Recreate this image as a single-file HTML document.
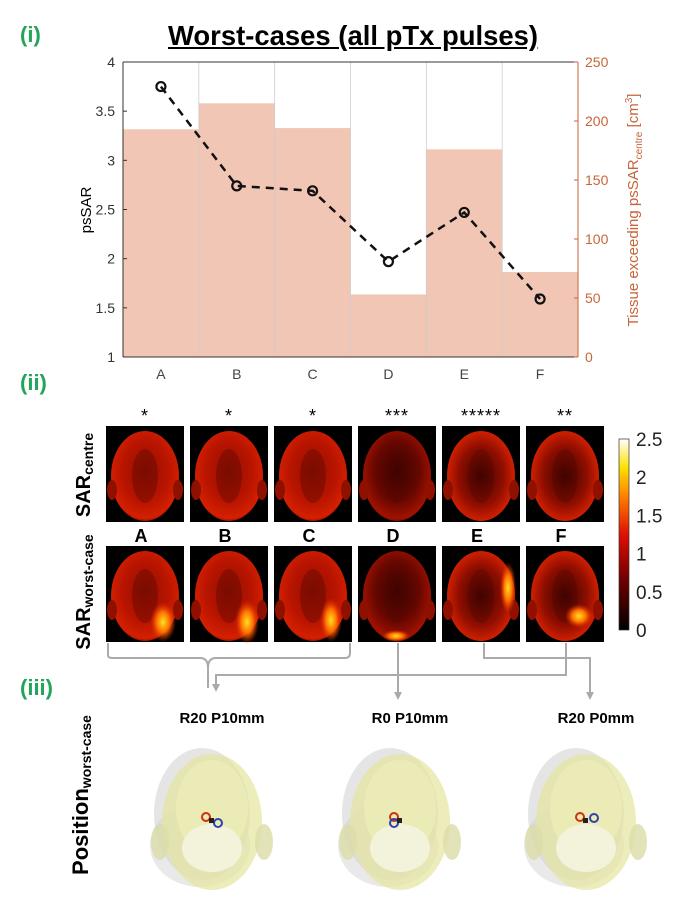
<!DOCTYPE html>
<html><head><meta charset="utf-8"><style>
body{margin:0;background:#fff;font-family:"Liberation Sans",sans-serif;}
#wrap{position:relative;width:681px;height:916px;overflow:hidden;}
.abs{position:absolute;}
.grn{color:#22a45a;font-weight:bold;font-size:22px;}
</style></head><body>
<div id="wrap">
<div class="abs grn" style="left:20px;top:22px">(i)</div>
<div class="abs grn" style="left:20px;top:370px">(ii)</div>
<div class="abs grn" style="left:20px;top:675px">(iii)</div>
<div class="abs" style="left:168px;top:20px;font-size:28px;font-weight:bold;text-decoration:underline;transform:scaleX(0.98);transform-origin:left">Worst-cases (all pTx pulses)</div>
<svg class="abs" style="left:0;top:0" width="681" height="916" id="svg"></svg>
</div>
<script>
const cats=["A","B","C","D","E","F"];
const tissue=[193,215,194,53,176,72];
const pssar=[3.75,2.74,2.69,1.97,2.47,1.59];
const leftTicks=[1,1.5,2,2.5,3,3.5,4];
const rightTicks=[0,50,100,150,200,250];
const stars=["*","*","*","***","*****","**"];
const cbTicks=[0,0.5,1,1.5,2,2.5];
const positions=["R20 P10mm","R0 P10mm","R20 P0mm"];

const NS="http://www.w3.org/2000/svg";
const svg=document.getElementById('svg');
function mk(t,a,p){const e=document.createElementNS(NS,t);for(const k in a)e.setAttribute(k,a[k]);(p||svg).appendChild(e);return e;}
const X0=123,X1=578,Y0=62,Y1=357;
const bw=(X1-X0)/cats.length;
const yL=v=>Y1-(v-1)/3*(Y1-Y0);
const yR=v=>Y1-v/250*(Y1-Y0);
const xC=i=>X0+bw*(i+0.5);
tissue.forEach((v,i)=>{
 const r=mk('rect',{x:X0+bw*i,y:yR(v),width:bw,height:Y1-yR(v),fill:'#f2c6b5'});
 
 
});
for(let i=1;i<cats.length;i++){mk('line',{x1:X0+bw*i,x2:X0+bw*i,y1:Y0,y2:Y1,stroke:'#ccc','stroke-width':0.8});}
mk('line',{x1:X0,x2:X0,y1:Y0,y2:Y1,stroke:'#333'});
mk('line',{x1:X0,x2:X1,y1:Y1,y2:Y1,stroke:'#333'});
mk('line',{x1:X1,x2:X1,y1:Y0,y2:Y1,stroke:'#c8643a'});
mk('line',{x1:X0,x2:X1,y1:Y0,y2:Y0,stroke:'#333'});
leftTicks.forEach(v=>{mk('line',{x1:X0,x2:X0+4,y1:yL(v),y2:yL(v),stroke:'#333'});
 const t=mk('text',{x:X0-8,y:yL(v)+5,'text-anchor':'end','font-size':14,fill:'#333'});t.textContent=v;
 });
rightTicks.forEach(v=>{mk('line',{x1:X1,x2:X1-4,y1:yR(v),y2:yR(v),stroke:'#c8643a'});
 const t=mk('text',{x:X1+7,y:yR(v)+5,'font-size':14,fill:'#c8643a'});t.textContent=v;
 });
cats.forEach((c,i)=>{const t=mk('text',{x:xC(i),y:Y1+22,'text-anchor':'middle','font-size':14,fill:'#444'});t.textContent=c;
 });
let yl=mk('text',{transform:`translate(91,210) rotate(-90)`,'text-anchor':'middle','font-size':15,fill:'#000'});yl.textContent='psSAR';

let yr=mk('text',{transform:`translate(638,210) rotate(-90)`,'text-anchor':'middle','font-size':15,fill:'#c8643a'});
yr.innerHTML='Tissue exceeding psSAR<tspan font-size="10" dy="4">centre</tspan><tspan dy="-4"> [cm</tspan><tspan font-size="10" dy="-6">3</tspan><tspan dy="6">]</tspan>';

const pl=mk('polyline',{points:pssar.map((v,i)=>xC(i)+','+yL(v)).join(' '),fill:'none',stroke:'#111','stroke-width':2.5,'stroke-dasharray':'8,6'});

pssar.forEach((v,i)=>{const c=mk('circle',{cx:xC(i),cy:yL(v),r:4.5,fill:'none',stroke:'#111','stroke-width':2.2});
 });

const defs=mk('defs',{});
function grad(id,stops,cx,cy,r){const g=mk('radialGradient',{id:id,cx:cx,cy:cy,r:r},defs);stops.forEach(s=>mk('stop',{offset:s[0],'stop-color':s[1]},g));}
grad('gA',[[0,'#901000'],[0.6,'#b81400'],[0.95,'#d42000'],[1,'#a01000']],'50%','45%','55%');
grad('gD',[[0,'#380300'],[0.6,'#680700'],[0.95,'#a01200'],[1,'#800a00']],'50%','45%','55%');
grad('gE',[[0,'#380300'],[0.6,'#900e00'],[0.95,'#d82200'],[1,'#a01000']],'50%','50%','55%');
grad('gW',[[0,'#ffe020'],[0.5,'#ff7000'],[1,'rgba(220,40,0,0)']],'50%','50%','50%');
const hx=[106,190,274,358,442,526],hw=78,hh=96;
const rowY=[426,546];
const fills=['gA','gA','gA','gD','gE','gE'];
rowY.forEach((ry,r)=>{
 hx.forEach((x,i)=>{
  const g=mk('g',{});
  
  
  mk('rect',{x:x,y:ry,width:hw,height:hh,fill:'#000'},g);
  mk('ellipse',{cx:x+hw/2,cy:ry+hh/2+2,rx:34,ry:45,fill:'url(#'+fills[i]+')'},g);
  mk('ellipse',{cx:x+6,cy:ry+64,rx:5,ry:10,fill:'#901000'},g);
  mk('ellipse',{cx:x+hw-6,cy:ry+64,rx:5,ry:10,fill:'#901000'},g);
  mk('ellipse',{cx:x+hw/2,cy:ry+hh/2+2,rx:13,ry:27,fill:'#500500',opacity:0.35},g);
  if(r===1){
   const hot=[[x+57,ry+76,13,20],[x+57,ry+76,12,22],[x+57,ry+74,11,22],[x+38,ry+90,14,6],[x+66,ry+42,8,26],[x+53,ry+70,14,12]][i];
   mk('ellipse',{cx:hot[0],cy:hot[1],rx:hot[2],ry:hot[3],fill:'url(#gW)'},g);
  }
 });
});
stars.forEach((s,i)=>{const t=mk('text',{x:hx[i]+hw/2,y:422,'text-anchor':'middle','font-size':18,fill:'#000','letter-spacing':'1'});t.textContent=s;
 });
cats.forEach((c,i)=>{const t=mk('text',{x:hx[i]+hw/2-4,y:542,'text-anchor':'middle','font-size':18,'font-weight':'bold',fill:'#000'});t.textContent=c;
 });
let rl1=mk('text',{transform:'translate(90,475) rotate(-90)','text-anchor':'middle','font-size':20,'font-weight':'bold'});
rl1.innerHTML='SAR<tspan font-size="14" dy="3">centre</tspan>';
let rl2=mk('text',{transform:'translate(90,592) rotate(-90)','text-anchor':'middle','font-size':20,'font-weight':'bold'});
rl2.innerHTML='SAR<tspan font-size="14" dy="3">worst-case</tspan>';
const cg=mk('linearGradient',{id:'cb',x1:0,y1:1,x2:0,y2:0},defs);
[[0,'#000'],[0.3,'#800000'],[0.5,'#e01000'],[0.7,'#ff8000'],[0.85,'#ffe000'],[1,'#fff']].forEach(s=>mk('stop',{offset:s[0],'stop-color':s[1]},cg));
const cbY0=439,cbY1=630;
const cbr=mk('rect',{x:619,y:cbY0,width:10,height:cbY1-cbY0,fill:'url(#cb)',stroke:'#333','stroke-width':0.7});

cbTicks.forEach(v=>{const y=cbY1-v/2.5*(cbY1-cbY0);const t=mk('text',{x:636,y:y+7,'font-size':19,fill:'#222'});t.textContent=v;
 });
const gs={stroke:'#aaa','stroke-width':2,fill:'none'};
mk('path',Object.assign({d:'M108,643 L108,655 Q108,658 112,658 L200,658 Q208,658 208,668 L208,688 M208,668 Q208,658 216,658 L345,658 Q350,658 350,653 L350,643'},gs));
mk('path',Object.assign({d:'M566,643 L566,675 L216,675 L216,686'},gs));
mk('path',Object.assign({d:'M398,643 L398,695'},gs));
mk('path',Object.assign({d:'M484,643 L484,658 L590,658 L590,695'},gs));
[[216,692],[398,700],[590,700]].forEach(p=>mk('path',{d:`M${p[0]-4},${p[1]-8} L${p[0]+4},${p[1]-8} L${p[0]},${p[1]} Z`,fill:'#aaa'}));
let pl3=mk('text',{transform:'translate(88,795) rotate(-90)','text-anchor':'middle','font-size':22,'font-weight':'bold'});
pl3.innerHTML='Position<tspan font-size="14" dy="3">worst-case</tspan>';
const headX=[222,410,596];
positions.forEach((p,i)=>{
 const t=mk('text',{x:headX[i],y:723,'text-anchor':'middle','font-size':15,'font-weight':'bold'});t.textContent=p;
 
 const g=mk('g',{});
 const cx=headX[i]-10,cy=820;
 mk('ellipse',{cx:cx-10,cy:cy-6,rx:48,ry:66,fill:'#cfcfcf',opacity:0.55},g);
 mk('ellipse',{cx:cx-12,cy:cy+25,rx:50,ry:42,fill:'#d4d4d4',opacity:0.5},g);
 mk('ellipse',{cx:cx,cy:cy+2,rx:50,ry:68,fill:'#e6e6a0',opacity:0.7},g);
 mk('ellipse',{cx:cx,cy:cy-12,rx:36,ry:48,fill:'#eeeeb8',opacity:0.7},g);
 mk('ellipse',{cx:cx,cy:cy+28,rx:30,ry:24,fill:'#f4f4e0',opacity:0.9},g);
 mk('ellipse',{cx:cx-52,cy:cy+22,rx:9,ry:18,fill:'#dcdca8',opacity:0.8},g);
 mk('ellipse',{cx:cx+52,cy:cy+22,rx:9,ry:18,fill:'#dcdca8',opacity:0.8},g);
 mk('circle',{cx:cx-6,cy:cy-3,r:4,fill:'none',stroke:'#d03010','stroke-width':2},g);
 mk('circle',{cx:cx+[6,-6,8][i],cy:cy+[3,3,-2][i],r:4,fill:'none',stroke:'#3040b0','stroke-width':2},g);
 mk('rect',{x:cx-3,y:cy-2,width:5,height:5,fill:'#222'},g);
});
</script>
</body></html>
